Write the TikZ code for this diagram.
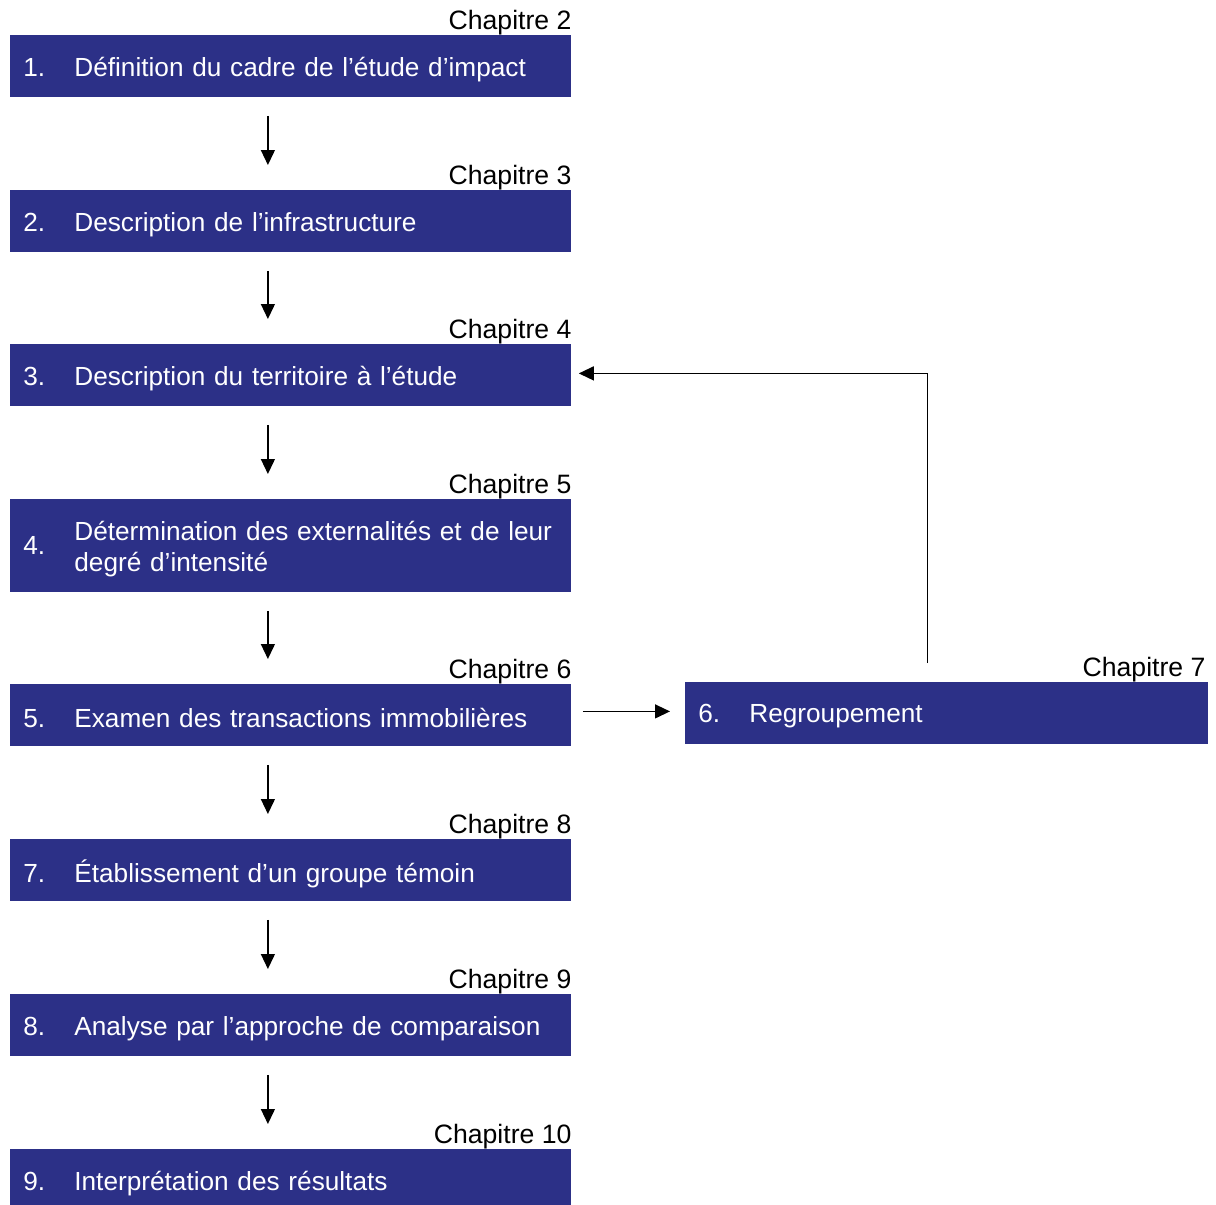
\documentclass[tikz,border=0pt]{standalone}
\usepackage{fontspec}
\setmainfont{Liberation Sans}
\usetikzlibrary{arrows.meta,positioning}
\definecolor{etapebleu}{RGB}{44,48,135}
\newcommand{\numetape}[2]{\raisebox{-1.5pt}[\height][\depth]{\makebox[25.5pt][l]{#1}#2}}

\begin{document}
\begin{tikzpicture}[x=0.5pt,y=-0.5pt,
  etape/.style={fill=etapebleu, text=white, anchor=north west, text width=267.5pt,
    minimum height=31pt, inner xsep=6.5pt, inner ysep=0pt, align=left,
    font=\fontsize{13.1}{15.5}\selectfont},
  chap/.style={anchor=base east, inner sep=0pt, font=\fontsize{13.3}{15.5}\selectfont},
  fleche/.style={-{Triangle[length=7.5pt,width=7pt]}, line width=0.65pt}]
\useasboundingbox (0,0) rectangle (1216,1205);
% colonne des etapes
\node[etape] (b1) at (10,35) {\numetape{1.}{Définition du cadre de l’étude d’impact}};
\node[chap] (c1) at ([yshift=3pt]b1.north east) {Chapitre 2};
\node[etape] (b2) at (10,190) {\numetape{2.}{Description de l’infrastructure}};
\node[chap] (c2) at ([yshift=3pt]b2.north east) {Chapitre 3};
\node[etape] (b3) at (10,344) {\numetape{3.}{Description du territoire à l’étude}};
\node[chap] (c3) at ([yshift=3pt]b3.north east) {Chapitre 4};
\node[etape, minimum height=46.5pt] (b4) at (10,499) {\numetape{4.}{\parbox[c]{240pt}{\mbox{Détermination des externalités et de leur}\\degré d’intensité}}};
\node[chap] (c4) at ([yshift=3pt]b4.north east) {Chapitre 5};
\node[etape] (b5) at (10,684) {\numetape{5.}{Examen des transactions immobilières}};
\node[chap] (c5) at ([yshift=3pt]b5.north east) {Chapitre 6};
\node[etape] (b7) at (10,839) {\numetape{7.}{Établissement d’un groupe témoin}};
\node[chap] (c7) at ([yshift=3pt]b7.north east) {Chapitre 8};
\node[etape] (b8) at (10,994) {\numetape{8.}{Analyse par l’approche de comparaison}};
\node[chap] (c8) at ([yshift=3pt]b8.north east) {Chapitre 9};
\node[etape] (b9) at (10,1149) {\numetape{9.}{Interprétation des résultats}};
\node[chap] (c9) at ([yshift=3pt]b9.north east) {Chapitre 10};
% regroupement
\node[etape, text width=248.5pt] (b6) at (685,682) {\numetape{6.}{Regroupement}};
\node[chap] (c6) at ([xshift=-1.5pt,yshift=3pt]b6.north east) {Chapitre 7};
% fleches
\foreach \a/\b in {b1/b2,b2/b3,b3/b4,b4/b5,b5/b7,b7/b8,b8/b9}
  \draw[fleche, shorten <=9pt, shorten >=12.5pt] ([xshift=-11.5pt]\a.south) -- ([xshift=-11.5pt]\b.north);
\draw[fleche, shorten <=5.5pt, shorten >=7.5pt] ([yshift=2pt]b5.east) -- ([yshift=2pt]b5.east -| b6.west);
\draw[fleche] ([xshift=-9.75pt,yshift=9.5pt]b6.north) |- ([xshift=3.5pt,yshift=1pt]b3.east);
\end{tikzpicture}
\end{document}
